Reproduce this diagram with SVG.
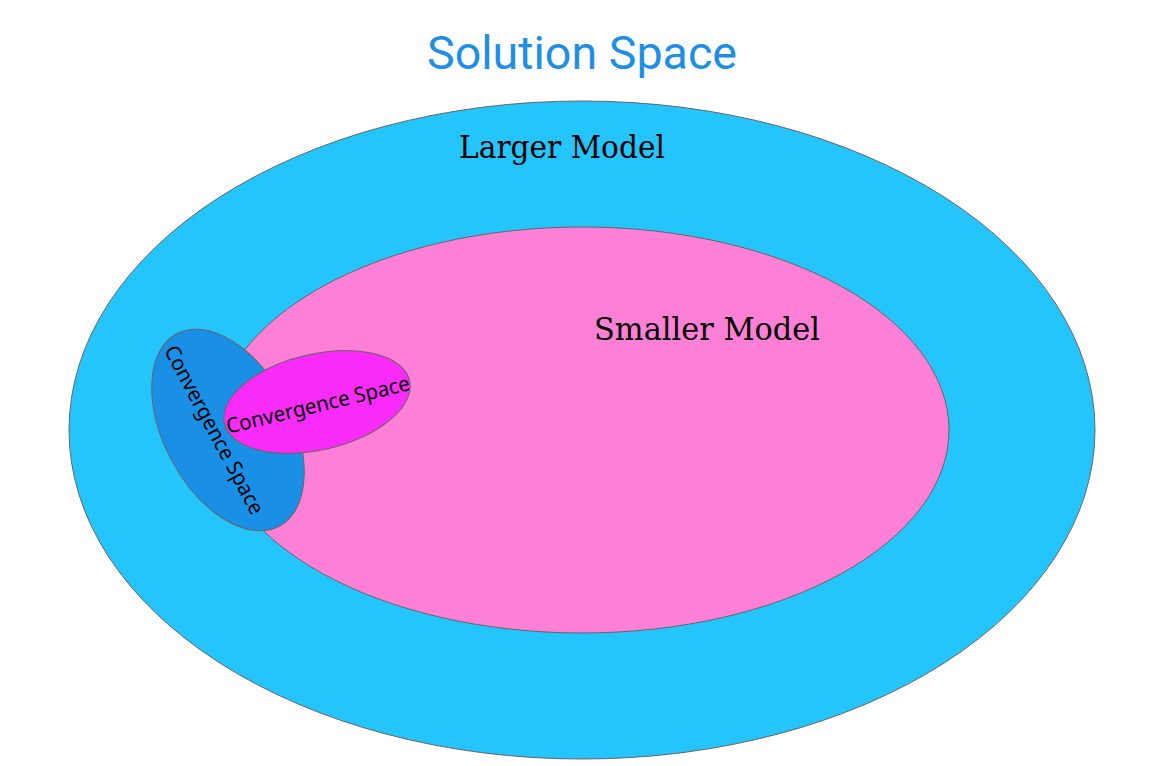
<svg xmlns="http://www.w3.org/2000/svg" width="1158" height="766" viewBox="0 0 1158 766">
<style>
.shape{stroke:#666666;stroke-width:1}
.lbl{font-family:"DejaVu Serif","Liberation Serif",serif;font-size:31px;fill:#000}
.conv{font-family:"Noto Sans","Open Sans",sans-serif;font-size:21px;fill:#000}
</style>
<rect width="1158" height="766" fill="#ffffff"/>
<text x="582" y="69" text-anchor="middle" font-family="Roboto,'Liberation Sans',sans-serif" font-size="46" fill="#1e8fe3" textLength="310" lengthAdjust="spacingAndGlyphs">Solution Space</text>
<g id="larger-model">
<ellipse class="shape" cx="582" cy="430" rx="513" ry="329" fill="#24c4fc"/>
<text class="lbl" x="562" y="158" text-anchor="middle" textLength="206" lengthAdjust="spacingAndGlyphs">Larger Model</text>
</g>
<g id="smaller-model">
<ellipse class="shape" cx="582" cy="430" rx="367" ry="203" fill="#fe80d6"/>
<text class="lbl" x="707" y="340" text-anchor="middle" textLength="226" lengthAdjust="spacingAndGlyphs">Smaller Model</text>
</g>
<g id="convergence-large">
<ellipse class="shape" cx="228" cy="430" rx="109" ry="64" transform="rotate(62 228 430)" fill="#1a8fe6"/>
<text class="conv" x="0" y="7" text-anchor="middle" transform="translate(214 430) rotate(62)" textLength="188" lengthAdjust="spacingAndGlyphs">Convergence Space</text>
</g>
<g id="convergence-small">
<ellipse class="shape" cx="317" cy="402" rx="95" ry="48" transform="rotate(-13 317 402)" fill="#f82bf9"/>
<text class="conv" x="0" y="7" text-anchor="middle" transform="translate(318 405) rotate(-13.5)" textLength="188" lengthAdjust="spacingAndGlyphs">Convergence Space</text>
</g>
<g id="connectors"></g>
</svg>
